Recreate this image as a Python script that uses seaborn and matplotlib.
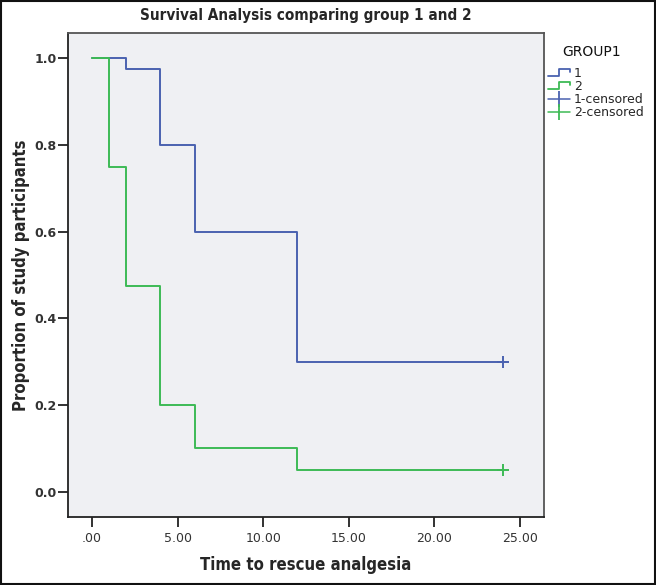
import seaborn as sns
from matplotlib import pyplot as plt
from matplotlib import lines as mlines
from matplotlib import patches as mpatches
from matplotlib.legend_handler import HandlerBase
import pandas as pd

# Kaplan-Meier steps
time1 = [0, 2, 4, 6, 12, 24]
surv1 = [1.0, 0.975, 0.8, 0.6, 0.3, 0.3]
time2 = [0, 1, 2, 4, 6, 12, 24]
surv2 = [1.0, 0.75, 0.475, 0.2, 0.1, 0.05, 0.05]
censorTime = [24, 24]
censorSurv = [0.3, 0.05]
groups = ["1", "2"]
xticks = [0, 5, 10, 15, 20, 25]
xtickLabels = [".00", "5.00", "10.00", "15.00", "20.00", "25.00"]
yticks = [0.0, 0.2, 0.4, 0.6, 0.8, 1.0]

BLUE = "#4a62b0"
GREEN = "#3dba55"


class StepHandler(HandlerBase):
	# little step icon like the SPSS legend
	def create_artists(self, legend, orig_handle, xdescent, ydescent, width, height, fontsize, trans):
		lo = -ydescent + 0.1 * height
		hi = -ydescent + 0.9 * height
		xs = [-xdescent, -xdescent + 0.5 * width, -xdescent + 0.5 * width, -xdescent + width, -xdescent + width]
		ys = [lo, lo, hi, hi, hi - 0.35 * height]
		ln = mlines.Line2D(xs, ys, color=orig_handle.get_color(), lw=1.3, transform=trans)
		return [ln]


if __name__ == "__main__":
	data = pd.concat(
		[pd.DataFrame({"time": time1, "surv": surv1, "group": groups[0]}),
		 pd.DataFrame({"time": time2, "surv": surv2, "group": groups[1]})],
		ignore_index=True
	)
	censored = pd.DataFrame({"time": censorTime, "surv": censorSurv, "group": groups})

	sns.set_style("white")
	fig = plt.figure(figsize=(6.56, 5.85), dpi=100)
	ax = fig.add_axes([0.1037, 0.1162, 0.7256, 0.8274])
	ax.set_facecolor("#eff0f3")

	pal = {"1": BLUE, "2": GREEN}
	sns.lineplot(data=data, x="time", y="surv", hue="group", palette=pal, drawstyle="steps-post",
				 estimator=None, legend=False, lw=1.4, ax=ax)
	for g in groups:
		sub = censored[censored["group"] == g]
		ax.plot(sub["time"], sub["surv"], marker="+", markersize=9, mew=1.4, linestyle="None", color=pal[g])

	ax.set_xlim([-1.4, 26.4])
	ax.set_ylim([-0.058, 1.058])
	ax.set_xticks(xticks)
	ax.set_xticklabels(xtickLabels)
	ax.set_yticks(yticks)
	ax.set_yticklabels(["%.1f" % y for y in yticks])
	ax.tick_params(axis="both", direction="out", length=7, width=1.3, color="#222", labelsize=9, labelcolor="#333", left=True, bottom=True)
	ax.tick_params(axis="x", pad=4)
	ax.tick_params(axis="y", pad=1)
	for lbl in ax.get_yticklabels():
		lbl.set_fontweight("bold")
	for s in ax.spines.values():
		s.set_color("#555")
		s.set_linewidth(1.3)
	ax.spines["left"].set_color("#222")
	ax.spines["bottom"].set_color("#222")

	ax.set_xlabel("Time to rescue analgesia", fontsize=12, fontweight="bold", fontstretch="condensed", labelpad=8)
	ax.set_ylabel("Proportion of study participants", fontsize=12, fontweight="bold", fontstretch="condensed", labelpad=3)
	fig.text(0.4665, 0.973, "Survival Analysis comparing group 1 and 2", ha="center", va="center",
			 fontsize=11, fontweight="bold", fontstretch="condensed")

	# legend
	fig.text(0.9024, 0.911, "GROUP1", ha="center", va="center", fontsize=10, color="#111")
	h1 = mlines.Line2D([], [], color=BLUE)
	h2 = mlines.Line2D([], [], color=GREEN)
	c1 = mlines.Line2D([], [], color=BLUE, marker="|", markersize=11, mew=1.3, lw=1.1)
	c2 = mlines.Line2D([], [], color=GREEN, marker="|", markersize=11, mew=1.3, lw=1.1)
	leg = fig.legend(handles=[h1, h2, c1, c2], labels=["1", "2", "1-censored", "2-censored"],
					 handler_map={h1: StepHandler(), h2: StepHandler()},
					 loc="upper left", bbox_to_anchor=(0.835, 0.885), frameon=False,
					 fontsize=9, handlelength=1.8, handletextpad=0.3,
					 labelspacing=0.0, numpoints=1, borderaxespad=0, borderpad=0)

	# outer frame round the whole picture
	fig.patches.append(mpatches.Rectangle((0.001, 0.001), 0.997, 0.997, transform=fig.transFigure,
										  fill=False, edgecolor="#111", lw=1.5))

	fig.savefig("out.png", dpi=100)
